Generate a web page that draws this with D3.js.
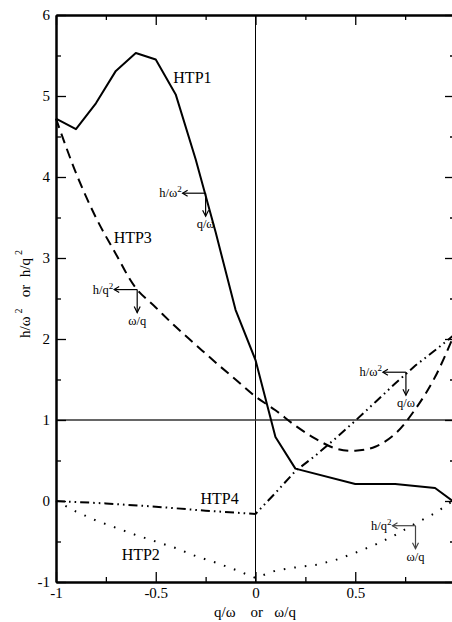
<!DOCTYPE html>
<html><head><meta charset="utf-8">
<script src="https://cdn.jsdelivr.net/npm/d3@7"></script>
<style>
html,body{margin:0;padding:0;background:#fff;}
svg{display:block;font-family:"Liberation Serif","Times New Roman",serif;}
</style></head>
<body>
<svg id="chart" width="452" height="622"></svg>
<script>
// ---- data ----
const htp1X = [-1, -0.9, -0.8, -0.7, -0.6, -0.5, -0.4, -0.3, -0.2, -0.1, 0, 0.1, 0.2, 0.5, 0.7, 0.9, 1.0];
const htp1Y = [4.72, 4.59, 4.91, 5.31, 5.53, 5.45, 5.02, 4.22, 3.32, 2.36, 1.74, 0.79, 0.40, 0.21, 0.21, 0.16, -0.02];

const htp3X = [-1, -0.9, -0.8, -0.7, -0.6, -0.5, -0.4, -0.3, -0.2, -0.1, 0, 0.1, 0.2, 0.3, 0.4, 0.5, 0.6, 0.7, 0.8, 0.9, 1.0];
const htp3Y = [4.72, 4.05, 3.50, 3.05, 2.63, 2.39, 2.15, 1.93, 1.71, 1.50, 1.29, 1.12, 0.93, 0.77, 0.65, 0.62, 0.67, 0.83, 1.13, 1.53, 2.08];

const htp4X = [-1, -0.75, -0.5, -0.25, 0, 0.1, 0.2, 0.3, 0.4, 0.5, 0.6, 0.7, 0.8, 0.9, 1.0];
const htp4Y = [0, -0.03, -0.07, -0.12, -0.16, 0.10, 0.37, 0.56, 0.77, 0.99, 1.22, 1.45, 1.67, 1.86, 2.06];

const htp2X = [-1, -0.9, -0.8, -0.7, -0.6, -0.5, -0.4, -0.3, -0.2, -0.1, 0, 0.1, 0.2, 0.3, 0.4, 0.5, 0.6, 0.7, 0.8, 0.9, 1.0];
const htp2Y = [0, -0.13, -0.24, -0.33, -0.42, -0.50, -0.58, -0.68, -0.76, -0.85, -0.95, -0.86, -0.82, -0.79, -0.73, -0.64, -0.54, -0.42, -0.28, -0.15, 0.02];

const xLabelled = [-1, -0.5, 0, 0.5];   // tick labels visible in the picture
const xMajor = [-1, -0.5, 0, 0.5, 1];
const xMinor = [-0.75, -0.25, 0.25, 0.75];
const yMajor = [-1, 0, 1, 2, 3, 4, 5, 6];
const yMinor = [-0.5, 0.5, 1.5, 2.5, 3.5, 4.5, 5.5];

const curveNames = ["HTP1", "HTP2", "HTP3", "HTP4"];
const curveLabelX = [-0.412, -0.671, -0.711, -0.276];
const curveLabelY = [5.16, -0.73, 3.19, -0.04];

// annotation arrows: corner positions (data) and labels
const annX = [-0.25, -0.593, 0.754, 0.802];
const annY = [3.80, 2.61, 1.59, -0.305];
const annH = ["h/ω", "h/q", "h/ω", "h/q"];
const annV = ["q/ω", "ω/q", "q/ω", "ω/q"];

// ---- layout ----
const svg = d3.select("#chart");
const L = 56, R = 455, T = 15, B = 582;
const x = d3.scaleLinear().domain([-1, 1]).range([L, R]);
const y = d3.scaleLinear().domain([-1, 6]).range([B, T]);
const fmt = d => String(d);

// reference lines
svg.append("line").attr("x1", x(0)).attr("x2", x(0)).attr("y1", T).attr("y2", B)
  .attr("stroke", "#000").attr("stroke-width", 1);
svg.append("line").attr("x1", L).attr("x2", R).attr("y1", y(1)).attr("y2", y(1))
  .attr("stroke", "#333").attr("stroke-width", 1.3);

// axes
function styleAxis(g, fs) {
  g.select(".domain").attr("stroke-width", 2);
  g.selectAll(".tick line").attr("stroke-width", 1.3);
  g.selectAll("text").attr("font-size", fs).attr("font-family", "Liberation Serif").attr("fill", "#000");
}
const gB = svg.append("g").attr("transform", `translate(0,${B})`)
  .call(d3.axisBottom(x).tickValues(xMajor).tickSize(-10).tickSizeOuter(0).tickPadding(5)
    .tickFormat(d => xLabelled.includes(d) ? fmt(d) : ""));
styleAxis(gB, 15);
svg.append("g").attr("transform", `translate(0,${B})`)
  .call(d3.axisBottom(x).tickValues(xMinor).tickSize(-5).tickSizeOuter(0).tickFormat(""))
  .call(g => styleAxis(g, 15));
svg.append("g").attr("transform", `translate(0,${T})`)
  .call(d3.axisTop(x).tickValues(xMajor).tickSize(-10).tickSizeOuter(0).tickFormat(""))
  .call(g => styleAxis(g, 15));
svg.append("g").attr("transform", `translate(0,${T})`)
  .call(d3.axisTop(x).tickValues(xMinor).tickSize(-5).tickSizeOuter(0).tickFormat(""))
  .call(g => styleAxis(g, 15));
const gL = svg.append("g").attr("transform", `translate(${L},0)`)
  .call(d3.axisLeft(y).tickValues(yMajor).tickSize(-10).tickSizeOuter(0).tickPadding(6).tickFormat(fmt));
styleAxis(gL, 15);
svg.append("g").attr("transform", `translate(${L},0)`)
  .call(d3.axisLeft(y).tickValues(yMinor).tickSize(-5).tickSizeOuter(0).tickFormat(""))
  .call(g => styleAxis(g, 15));
svg.append("g").attr("transform", `translate(${R},0)`)
  .call(d3.axisRight(y).tickValues(yMajor).tickSize(-10).tickSizeOuter(0).tickFormat(""))
  .call(g => styleAxis(g, 15));
svg.append("g").attr("transform", `translate(${R},0)`)
  .call(d3.axisRight(y).tickValues(yMinor).tickSize(-5).tickSizeOuter(0).tickFormat(""))
  .call(g => styleAxis(g, 15));

// curves
const line = d3.line().x(d => x(d[0])).y(d => y(d[1]));
const zip = (a, b) => a.map((v, i) => [v, b[i]]);
svg.append("path").datum(zip(htp1X, htp1Y)).attr("d", line)
  .attr("fill", "none").attr("stroke", "#000").attr("stroke-width", 2).attr("stroke-linejoin", "round");
svg.append("path").datum(zip(htp3X, htp3Y)).attr("d", line.curve(d3.curveCatmullRom))
  .attr("fill", "none").attr("stroke", "#000").attr("stroke-width", 2).attr("stroke-dasharray", "10,6");
line.curve(d3.curveLinear);
svg.append("path").datum(zip(htp4X, htp4Y)).attr("d", line)
  .attr("fill", "none").attr("stroke", "#000").attr("stroke-width", 2).attr("stroke-dasharray", "9,4,1.6,4,1.6,4");
svg.append("path").datum(zip(htp2X, htp2Y)).attr("d", line)
  .attr("fill", "none").attr("stroke", "#000").attr("stroke-width", 2).attr("stroke-dasharray", "1.6,9");

// curve names
curveNames.forEach((n, i) => {
  svg.append("text").attr("x", x(curveLabelX[i])).attr("y", y(curveLabelY[i]))
    .attr("font-size", 16).attr("fill", "#000").text(n);
});

// arrow annotations
annX.forEach((ax, i) => {
  const cx = x(ax), cy = y(annY[i]);
  const col = i === 3 ? "#444" : "#000";
  const g = svg.append("g").attr("stroke", col).attr("fill", "none").attr("stroke-width", 1.2);
  const hx = cx - 23, vy = cy + 23;
  g.append("line").attr("x1", cx).attr("y1", cy).attr("x2", hx).attr("y2", cy);
  g.append("polyline").attr("points", `${hx + 5},${cy - 3} ${hx},${cy} ${hx + 5},${cy + 3}`);
  g.append("line").attr("x1", cx).attr("y1", cy).attr("x2", cx).attr("y2", vy);
  g.append("polyline").attr("points", `${cx - 3},${vy - 6} ${cx},${vy} ${cx + 3},${vy - 6}`);
  const t = svg.append("text").attr("x", hx - 1).attr("y", cy + 4).attr("text-anchor", "end")
    .attr("font-size", 12.5).attr("fill", "#000");
  t.append("tspan").text(annH[i]);
  t.append("tspan").attr("font-size", 9).attr("dy", -5).text("2");
  svg.append("text").attr("x", cx).attr("y", vy + 12).attr("text-anchor", "middle")
    .attr("font-size", 12.5).attr("fill", "#000").text(annV[i]);
});

// axis titles
const xt = svg.append("text").attr("x", 255).attr("y", 617).attr("text-anchor", "middle")
  .attr("font-size", 15).attr("fill", "#000").style("white-space", "pre");
xt.text("q/ω    or   ω/q");

const yt = svg.append("text").attr("transform", "translate(30,294) rotate(-90)")
  .attr("text-anchor", "middle").attr("font-size", 15).attr("fill", "#000").style("white-space", "pre");
yt.append("tspan").text("h/ω");
yt.append("tspan").attr("font-size", 10).attr("dy", -8).attr("dx", 3).text("2");
yt.append("tspan").attr("dy", 8).text("   or  h/q");
yt.append("tspan").attr("font-size", 10).attr("dy", -8).attr("dx", 3).text("2");
</script>
</body></html>
